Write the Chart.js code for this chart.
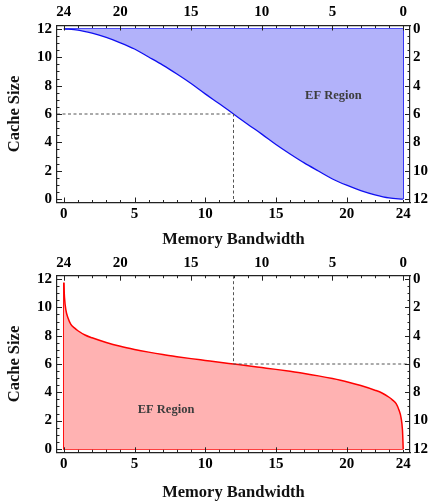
<!DOCTYPE html>
<html>
<head>
<meta charset="utf-8">
<script src="https://cdn.jsdelivr.net/npm/chart.js@4/dist/chart.umd.min.js"></script>
<style>
  body { margin: 0; background: #fff; }
  #wrap { position: relative; width: 430px; height: 503px; background: #fff; }
  canvas { position: absolute; left: 0; }
</style>
</head>
<body>
<div id="wrap">
  <canvas id="topChart" width="430" height="250" style="top:0"></canvas>
  <canvas id="bottomChart" width="430" height="253" style="top:250px"></canvas>
</div>
<script>
// axis ranges and tick labels
const xTicks = [0, 5, 10, 15, 20, 24];
const yTicks = [0, 2, 4, 6, 8, 10, 12];
const xRange = [0, 24];
const yRange = [0, 12];
const markPoint = [12, 6];

// upper plot: blue boundary curve
const topX = [0, 1, 2, 3, 4, 5, 6, 7, 8, 9, 10, 11, 12, 13, 14, 15, 16, 17, 18, 19, 20, 21, 22, 23, 24];
const topY = [12, 11.92, 11.7, 11.4, 11.02, 10.58, 10.02, 9.45, 8.82, 8.15, 7.42, 6.72, 6.0,
              5.28, 4.58, 3.85, 3.18, 2.55, 1.98, 1.42, 0.98, 0.6, 0.3, 0.08, 0];

// lower plot: red boundary curve
const botX = [0, 0.05, 0.15, 0.3, 0.5, 0.75, 1, 1.5, 2, 3, 4, 5, 6, 7, 8, 9, 10, 11, 12,
              13, 14, 15, 16, 17, 18, 19, 20, 21, 22, 22.5, 23, 23.25, 23.5, 23.7, 23.85, 23.95, 24];
const botY = [11.75, 10.7, 9.8, 9.25, 8.8, 8.55, 8.35, 8.05, 7.85, 7.52, 7.25, 7.03, 6.84, 6.67, 6.52, 6.38, 6.25, 6.12, 6.0,
              5.88, 5.75, 5.62, 5.48, 5.33, 5.16, 4.97, 4.75, 4.48, 4.15, 3.95, 3.65, 3.45, 3.2, 2.75, 2.2, 1.3, 0];

const regionLabel = 'EF Region';
const topLabelAt = [19.06, 7.3];
const botLabelAt = [7.23, 2.8];

const X_PAD = 0.48, Y_PAD = 0.24;
const xMin = xRange[0] - X_PAD, xMax = xRange[1] + X_PAD;
const yMin = yRange[0] - Y_PAD, yMax = yRange[1] + Y_PAD;

const FONT = 'Liberation Serif';
const tickFont = { family: FONT, size: 15, weight: 'bold' };
const titleFont = { family: FONT, size: 16.5, weight: 'bold', lineHeight: 1.2 };

function pts(xs, ys) {
  return xs.map((x, i) => ({ x: x, y: ys[i] }));
}

// small inward tick marks on all four sides of the frame
const frameTicks = {
  id: 'frameTicks',
  afterDatasetsDraw(chart) {
    const { ctx, chartArea: a, scales } = chart;
    ctx.save();
    ctx.strokeStyle = '#222';
    ctx.lineWidth = 1;
    ctx.beginPath();
    for (let v = xRange[0]; v <= xRange[1]; v++) {
      const pb = Math.round(scales.x.getPixelForValue(v)) + 0.5;
      const lb = v % 5 === 0 ? 5 : 2.5;
      ctx.moveTo(pb, a.bottom); ctx.lineTo(pb, a.bottom - lb);
      const pt = Math.round(scales.x2.getPixelForValue(v)) + 0.5;
      const lt = (v % 5 === 0 || v === 24) ? 5 : 2.5;
      ctx.moveTo(pt, a.top); ctx.lineTo(pt, a.top + lt);
    }
    for (let v = yRange[0]; v <= yRange[1]; v += 0.5) {
      const len = v % 2 === 0 ? 5 : 2.5;
      const pl = Math.round(scales.y.getPixelForValue(v)) + 0.5;
      ctx.moveTo(a.left, pl); ctx.lineTo(a.left + len, pl);
      const pr = Math.round(scales.y2.getPixelForValue(v)) + 0.5;
      ctx.moveTo(a.right, pr); ctx.lineTo(a.right - len, pr);
    }
    ctx.stroke();
    ctx.restore();
  }
};

const regionText = {
  id: 'regionText',
  afterDatasetsDraw(chart, args, opts) {
    const { ctx, scales } = chart;
    ctx.save();
    ctx.font = 'bold 12.5px "' + FONT + '"';
    ctx.fillStyle = '#3d3d3d';
    ctx.textAlign = 'center';
    ctx.textBaseline = 'middle';
    ctx.fillText(regionLabel, scales.x.getPixelForValue(opts.at[0]), scales.y.getPixelForValue(opts.at[1]));
    ctx.restore();
  }
};

function makeScales(bottomH, topH) {
  const border = { display: true, color: '#222', width: 1.2 };
  const setX = s => { s.ticks = xTicks.map(v => ({ value: v })); };
  const setY = s => { s.ticks = yTicks.map(v => ({ value: v })); };
  return {
    x: {
      type: 'linear', position: 'bottom', min: xMin, max: xMax,
      grid: { display: false, drawTicks: false }, border: border,
      ticks: { font: tickFont, color: '#000', padding: 3, maxRotation: 0, autoSkip: false },
      afterBuildTicks: setX,
      title: { display: true, text: 'Memory Bandwidth', font: titleFont, color: '#111', padding: { top: 0, bottom: 0 } },
      afterFit: s => { s.height = bottomH; }
    },
    x2: {
      type: 'linear', position: 'top', reverse: true, min: xRange[1] - xMax, max: xRange[1] - xMin,
      grid: { display: false, drawTicks: false }, border: border,
      ticks: { font: tickFont, color: '#000', padding: 4, maxRotation: 0, autoSkip: false },
      afterBuildTicks: setX,
      afterFit: s => { s.height = topH; }
    },
    y: {
      type: 'linear', position: 'left', min: yMin, max: yMax,
      grid: { display: false, drawTicks: false }, border: border,
      ticks: { font: tickFont, color: '#000', padding: 5 },
      afterBuildTicks: setY,
      title: { display: true, text: 'Cache Size', font: titleFont, color: '#111', padding: { top: 5, bottom: 0 } },
      afterFit: s => { s.width = 57; }
    },
    y2: {
      type: 'linear', position: 'right', reverse: true, min: yRange[1] - yMax, max: yRange[1] - yMin,
      grid: { display: false, drawTicks: false }, border: border,
      ticks: { font: tickFont, color: '#000', padding: 3 },
      afterBuildTicks: setY,
      afterFit: s => { s.width = 20; }
    }
  };
}

function baseOptions(bottomH, topH, labelAt) {
  return {
    responsive: false,
    animation: false,
    devicePixelRatio: 1,
    layout: { padding: 0 },
    elements: { point: { radius: 0 } },
    scales: makeScales(bottomH, topH),
    plugins: {
      legend: { display: false },
      tooltip: { enabled: false },
      regionText: { at: labelAt }
    }
  };
}

const dashStyle = { borderColor: '#555', borderWidth: 1, borderDash: [3, 2.5], fill: false, pointRadius: 0, tension: 0 };

// upper chart
new Chart(document.getElementById('topChart'), {
  type: 'line',
  data: {
    datasets: [
      Object.assign({
        data: [{ x: xMin, y: markPoint[1] }, { x: markPoint[0], y: markPoint[1] }, { x: markPoint[0], y: yMin }]
      }, dashStyle),
      {
        data: pts(topX, topY),
        borderColor: '#1010f0',
        borderWidth: 1.3,
        backgroundColor: 'rgb(178,178,250)',
        fill: { value: yRange[1] },
        cubicInterpolationMode: 'monotone'
      },
      {
        data: [{ x: xRange[0], y: yRange[1] }, { x: xRange[1], y: yRange[1] }, { x: xRange[1], y: yRange[0] }],
        borderColor: '#1010f0',
        borderWidth: 1.3,
        fill: false,
        tension: 0
      }
    ]
  },
  options: baseOptions(47.5, 25.5, topLabelAt),
  plugins: [frameTicks, regionText]
});

// lower chart
new Chart(document.getElementById('bottomChart'), {
  type: 'line',
  data: {
    datasets: [
      Object.assign({
        data: [{ x: markPoint[0], y: yMax }, { x: markPoint[0], y: markPoint[1] }, { x: xMax, y: markPoint[1] }]
      }, dashStyle),
      {
        data: pts(botX, botY),
        borderColor: '#ff0000',
        borderWidth: 1.5,
        backgroundColor: 'rgb(255,178,178)',
        fill: { value: yRange[0] },
        cubicInterpolationMode: 'monotone'
      },
      {
        data: [{ x: botX[0], y: botY[0] }, { x: xRange[0], y: yRange[0] }, { x: xRange[1], y: yRange[0] }],
        borderColor: '#ff0000',
        borderWidth: 1.5,
        fill: false,
        tension: 0
      }
    ]
  },
  options: baseOptions(50.7, 25.7, botLabelAt),
  plugins: [frameTicks, regionText]
});
</script>
</body>
</html>
